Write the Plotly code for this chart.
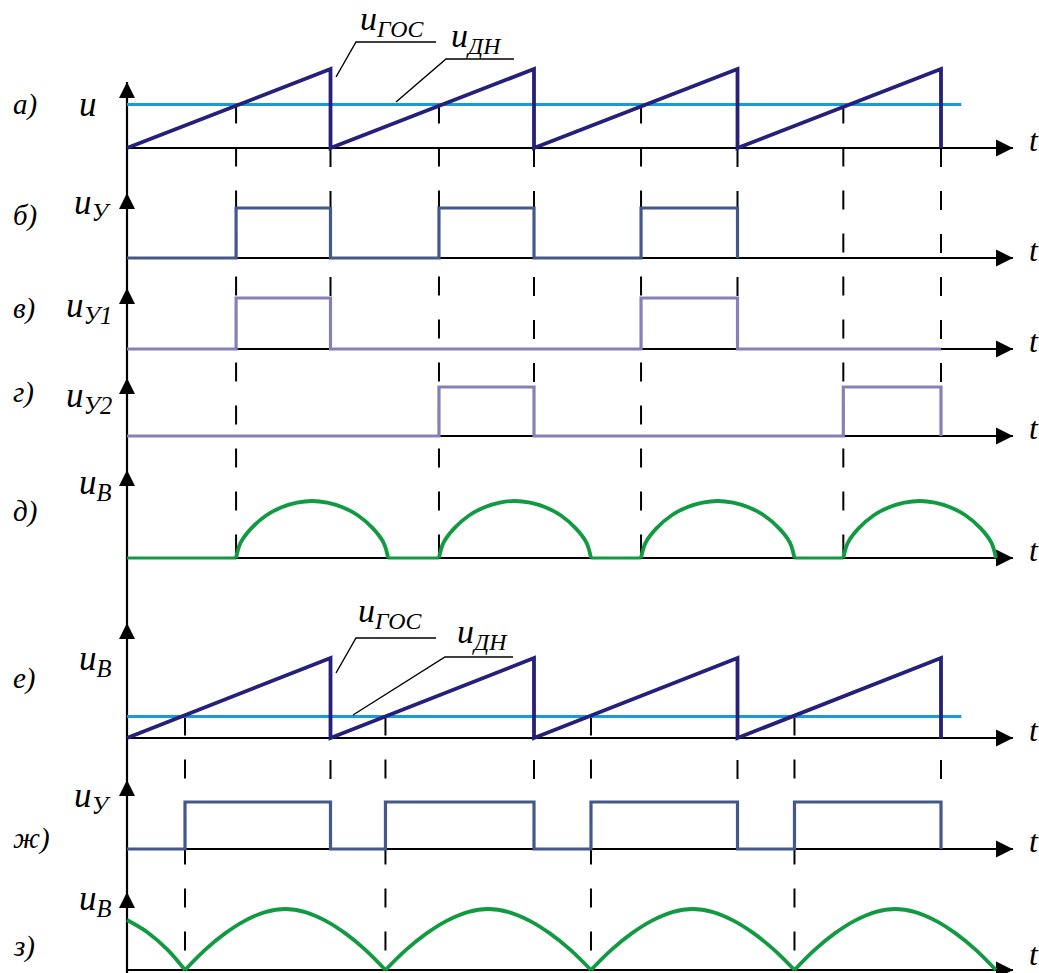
import plotly.graph_objects as go

# ---------------- data (time measured in sawtooth periods T) ----------------
saw_t = [0, 1, 1, 2, 2, 3, 3, 4, 4]          # u_ГОС sawtooth corners
saw_v = [0, 1, 0, 1, 0, 1, 0, 1, 0]
thr_a = 0.55                                  # u_ДН level in а)
thr_e = 0.27                                  # u_ДН level in е)
thr_end = 4.10
resets = [1, 2, 3, 4]
cross_a = [0.536, 1.533, 2.526, 3.52]         # u_ГОС = u_ДН in а)
cross_e = [0.285, 1.27, 2.28, 3.28]           # u_ГОС = u_ДН in е)

uy_on, uy_off, uy_end = [0.536, 1.533, 2.526], [1, 2, 3], 3.0
uy1_on, uy1_off, uy1_end = [0.536, 2.526], [1, 3], 4.0
uy2_on, uy2_off, uy2_end = [1.533, 3.52], [2, 4], 4.0
ubd_start = [0.536, 1.533, 2.526, 3.52]
ubd_stop = [1.283, 2.28, 3.28, 4.27]
uyz_on, uyz_off, uyz_end = [0.285, 1.27, 2.28, 3.28], [1, 2, 3, 4], 4.0
ubz_start = [0.285, 1.27, 2.28, 3.28]
ubz_stop = [1.27, 2.28, 3.28, 4.27]
ubz_head_t = [0, 0.1, 0.2, 0.285]
ubz_head_v = [0.82, 0.62, 0.33, 0]

arc_d_s = [0, 0.03, 0.1, 0.2, 0.3, 0.4, 0.5, 0.6, 0.7, 0.8, 0.9, 0.97, 1]
arc_d_v = [0, 0.27, 0.52, 0.75, 0.89, 0.97, 1, 0.97, 0.89, 0.75, 0.52, 0.27, 0]
arc_z_s = [0, 0.1, 0.2, 0.3, 0.4, 0.5, 0.6, 0.7, 0.8, 0.9, 1]
arc_z_v = [0, 0.33, 0.6, 0.81, 0.95, 1, 0.95, 0.81, 0.6, 0.33, 0]

panel_letters = ["а)", "б)", "в)", "г)", "д)", "е)", "ж)", "з)"]
signal_names = ["u", "u<sub>У</sub>", "u<sub>У1</sub>", "u<sub>У2</sub>",
                "u<sub>В</sub>", "u<sub>В</sub>", "u<sub>У</sub>", "u<sub>В</sub>"]
callout_names = ["u<sub>ГОС</sub>", "u<sub>ДН</sub>"]

# ---------------- geometry / styles ----------------
W, H = 1039, 973
X0, TPX = 127.0, 203.5          # pixel of t=0 and pixels per period
def t_of(px):
    return (px - X0) / TPX

# baseline row and full-scale height of every panel
G = {
    "a": (148, 79), "b": (258, 50), "v": (349, 51), "g": (436, 49),
    "d": (558, 57), "e": (738, 80), "zh": (849, 47), "z": (970, 61),
}
arrow_tip = [82, 193, 288, 378, 470, 623, 780, 892]
letter_y = [104, 215, 308, 392, 511, 678, 838, 946]
name_y = [104, 204, 307, 397, 484, 660, 797, 900]
t_dy = [8, 8, 8, 8, 8, 8, 8, 16]

# leader lines (pixel positions) and callout text anchors
lead_gos = [([336, 356, 436], [77, 42, 42]), ([336, 356, 436], [673, 638, 638])]
lead_dn = [([396, 446, 514], [102, 59, 59]), ([353, 445, 513], [715, 657, 657])]
txt_gos = [(358, 21), (356, 613)]
txt_dn = [(449, 38), (455, 634)]

AX_END = t_of(1013)

C_SAW = "#27207a"
C_THR = "#1b9ad8"
C_UY = "#44598a"
C_UY12 = "#8581b6"
C_GRN = "#129a42"
FONT = "Liberation Serif"

def row(panel, v):
    b, h = G[panel]
    return [b - x * h for x in v] if isinstance(v, list) else b - v * h

def steps(on, off, end):
    xs, ys = [0], [0]
    for a, b in zip(on, off):
        xs += [a, a, b, b]
        ys += [0, 1, 1, 0]
    xs.append(end)
    ys.append(0)
    return xs, ys

fig = go.Figure()

def line(xs, ys, color, width, dash=None, shape="linear"):
    fig.add_trace(go.Scatter(x=xs, y=ys, mode="lines", hoverinfo="skip",
                             line=dict(color=color, width=width, dash=dash, shape=shape),
                             showlegend=False))

# ---- dashed projection lines ----
DASH = "19px,24px"
for t in cross_a:
    line([t, t], [row("a", thr_a), G["d"][0]], "black", 2, DASH)
for t in resets:
    bottom = row("v", 1) if t in (1, 3) else row("g", 1)
    line([t, t], [G["a"][0], bottom], "black", 2, DASH)
for t in cross_e:
    line([t, t], [row("e", thr_e), G["z"][0]], "black", 2, DASH)
for t in resets:
    line([t, t], [G["e"][0] + 22, row("zh", 1)], "black", 2, DASH)

# ---- axes ----
line([0, 0], [arrow_tip[0], H], "black", 2.2)
for key in G:
    line([0, AX_END], [G[key][0], G[key][0]], "black", 2)
fig.add_trace(go.Scatter(x=[0] * len(arrow_tip), y=arrow_tip, mode="markers", hoverinfo="skip",
                         marker=dict(symbol="arrow-up", size=16, color="black"), showlegend=False))
fig.add_trace(go.Scatter(x=[AX_END] * len(G), y=[G[k][0] for k in G], mode="markers",
                         hoverinfo="skip", marker=dict(symbol="arrow-right", size=17, color="black"),
                         showlegend=False))

# ---- а) and е): sawtooth + threshold ----
for p, thr in (("a", thr_a), ("e", thr_e)):
    line([0, thr_end], [row(p, thr)] * 2, C_THR, 3)
    line(saw_t, row(p, saw_v), C_SAW, 3.8)

# ---- pulse trains ----
for p, (on, off, end), col in (("b", (uy_on, uy_off, uy_end), C_UY),
                               ("v", (uy1_on, uy1_off, uy1_end), C_UY12),
                               ("g", (uy2_on, uy2_off, uy2_end), C_UY12),
                               ("zh", (uyz_on, uyz_off, uyz_end), C_UY)):
    xs, ys = steps(on, off, end)
    line(xs, row(p, ys), col, 3.2)

# ---- д): gated arcs ----
prev = 0
for a, b in zip(ubd_start, ubd_stop):
    line([prev, a], [G["d"][0]] * 2, C_GRN, 3)
    line([a + s * (b - a) for s in arc_d_s], row("d", arc_d_v), C_GRN, 3.8, shape="spline")
    prev = b

# ---- з): rectified arcs ----
line(ubz_head_t, row("z", ubz_head_v), C_GRN, 3.8, shape="spline")
for a, b in zip(ubz_start, ubz_stop):
    line([a + s * (b - a) for s in arc_z_s], row("z", arc_z_v), C_GRN, 3.8, shape="spline")

# ---- callout leader lines ----
for xs, ys in lead_gos + lead_dn:
    line([t_of(x) for x in xs], ys, "black", 1.4)

annots = []
def txt(px, py, s, size, xanchor="left"):
    annots.append(dict(x=t_of(px), y=py, xref="x", yref="y", text="<i>" + s + "</i>",
                       showarrow=False, xanchor=xanchor, yanchor="middle",
                       font=dict(family=FONT, size=size, color="black")))

for i in range(8):
    txt(11, letter_y[i], panel_letters[i], 29)
    txt(114 if i else 99, name_y[i], signal_names[i], 35, xanchor="right")
for i, key in enumerate(G):
    txt(1027, G[key][0] - t_dy[i], "t", 32)
for (px, py) in txt_gos:
    txt(px, py, callout_names[0], 34)
for (px, py) in txt_dn:
    txt(px, py, callout_names[1], 34)

fig.update_layout(
    width=W, height=H, margin=dict(l=0, r=0, t=0, b=0),
    paper_bgcolor="white", plot_bgcolor="white", annotations=annots,
    xaxis=dict(range=[t_of(0), t_of(W)], visible=False, fixedrange=True),
    yaxis=dict(range=[H, 0], visible=False, fixedrange=True),
)
fig.write_html("out.html", config={"displayModeBar": False, "responsive": False},
               post_script="document.body.style.margin='0';document.body.style.overflow='hidden';")
